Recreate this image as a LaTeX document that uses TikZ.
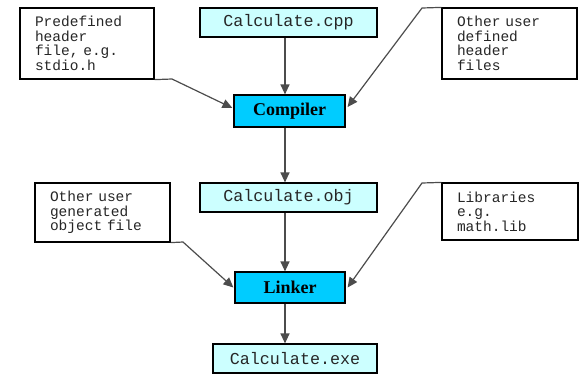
\documentclass[tikz,border=0pt]{standalone}
\usepackage{fontspec}
\setmainfont{Liberation Serif}
\setmonofont{Liberation Mono}
\usepackage{tikz}
\usetikzlibrary{arrows.meta}
\definecolor{filecyan}{HTML}{CCFFFF}
\definecolor{toolcyan}{HTML}{00CCFF}

\begin{document}
\begin{tikzpicture}[x=1pt, y=-1pt,
            filebox/.style={draw, line width=1.2pt, fill=filecyan, minimum width=177pt, minimum height=29pt,
                inner sep=0pt, text=black!85, font=\ttfamily\fontsize{16.7}{18}\selectfont},
            toolbox/.style={draw, line width=1.2pt, fill=toolcyan, minimum width=111pt, minimum height=32pt,
                inner sep=0pt, font=\bfseries\fontsize{18}{20}\selectfont},
            notebox/.style={draw, line width=1.2pt, fill=white, inner xsep=15pt, inner ysep=0pt, align=left,
                text=black!85, font=\ttfamily\fontsize{14.5}{14.5}\selectfont},
            flow/.style={line width=1.2pt, draw=black!70, -{Triangle[length=10pt, width=9pt]}}]
            \useasboundingbox (0,0) rectangle (581,376);
            \node[filebox] (cpp) at (288.5,22.5) {Calculate.cpp};
            \node[toolbox] (comp) at (289.5,111) {Compiler};
            \node[filebox] (obj) at (288.5,197.5) {Calculate.obj};
            \node[toolbox, minimum width=110pt, minimum height=31pt] (link) at (290,287.5) {Linker};
            \node[filebox, minimum width=164pt] (exe) at (295,358.5) {Calculate.exe};
            \node[notebox, text width=104pt, minimum height=71pt] (pre) at (87,43.5)
            {Predefined\\header\\file, e.g.\\stdio.h};
            \node[notebox, text width=105pt, minimum height=71pt] (def) at (509.5,43.5)
            {Other user\\defined\\header\\files};
            \node[notebox, text width=105pt, minimum height=59pt] (gen) at (102.5,212.5)
            {Other user\\generated\\object file};
            \node[notebox, text width=106pt, minimum height=57pt] (lib) at (510,211.5)
            {Libraries\\e.g.\\math.lib};
            \coordinate (axis) at (285,0);
            \foreach \from/\to in {cpp/comp, comp/obj, obj/link, link/exe}
            {
                \draw[flow] (\from.south -| axis) -- (\to.north -| axis);
            }
            \coordinate (preBend) at (172,79);
            \coordinate (defBend) at (422,8);
            \coordinate (genBend) at (183,242);
            \coordinate (libBend) at (422,183);
            \draw[flow] (pre.south east) -- (preBend) -- ([xshift=-1pt, yshift=3pt]comp.west);
            \draw[flow] (def.north west) -- (defBend) -- ([xshift=2pt, yshift=4pt]comp.east);
            \draw[flow] (gen.south east) -- (genBend) -- ([xshift=-1pt]link.west);
            \draw[flow] (lib.north west) -- (libBend) -- ([xshift=2pt]link.east);
\end{tikzpicture}
\end{document}
